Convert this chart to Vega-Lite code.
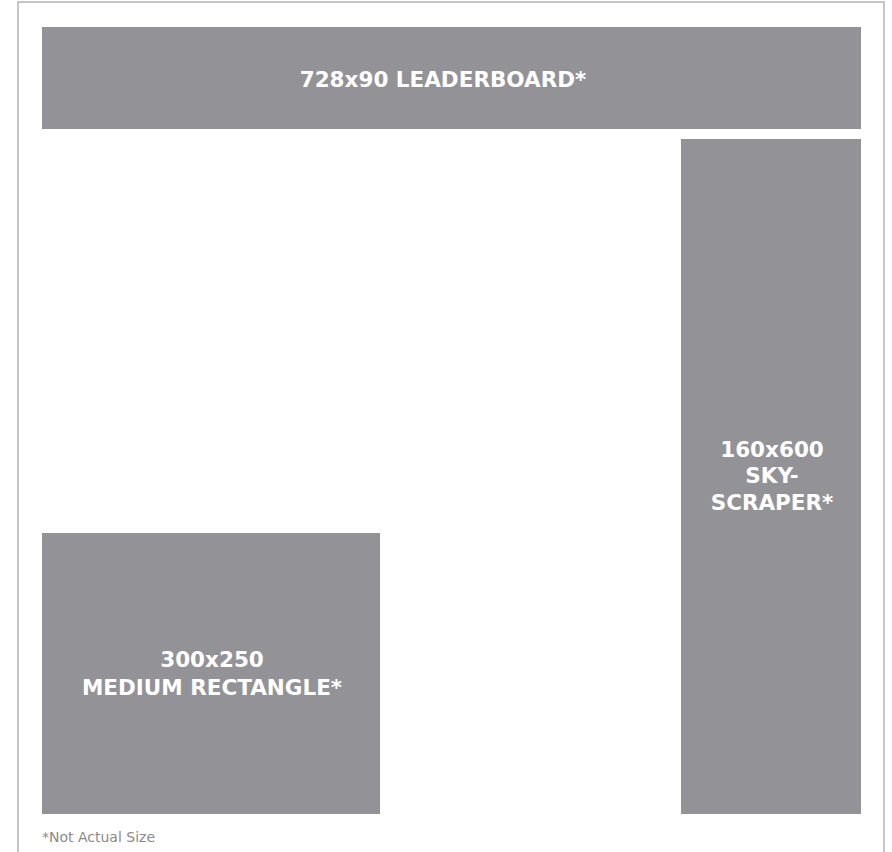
{
  "$schema": "https://vega.github.io/schema/vega-lite/v6.json",
  "width": 892,
  "height": 852,
  "autosize": {"type": "none"},
  "padding": 0,
  "background": "white",
  "config": {"view": {"stroke": null}},
  "datasets": {
    "frame": [{"x": 18, "x2": 884, "y": 2, "y2": 860}],
    "boxes": [
      {"name": "leaderboard", "x": 42, "x2": 861, "y": 27, "y2": 129},
      {"name": "skyscraper", "x": 681, "x2": 861, "y": 139, "y2": 814},
      {"name": "medium", "x": 42, "x2": 380, "y": 533, "y2": 814}
    ],
    "labels": [
      {"text": "728x90 LEADERBOARD*", "x": 443, "y": 87},
      {"text": "160x600", "x": 772, "y": 457},
      {"text": "SKY-", "x": 772, "y": 483},
      {"text": "SCRAPER*", "x": 772, "y": 510},
      {"text": "300x250", "x": 212, "y": 667},
      {"text": "MEDIUM RECTANGLE*", "x": 212, "y": 695}
    ],
    "notes": [{"text": "*Not Actual Size", "x": 42, "y": 842}]
  },
  "layer": [
    {
      "data": {"name": "frame"},
      "mark": {"type": "rect", "fill": null, "stroke": "#b4b4b4", "strokeWidth": 1.5},
      "encoding": {
        "x": {"field": "x", "type": "quantitative", "scale": {"domain": [0, 892], "nice": false, "zero": false}, "axis": null},
        "x2": {"field": "x2"},
        "y": {"field": "y", "type": "quantitative", "scale": {"domain": [0, 852], "reverse": true, "nice": false, "zero": false}, "axis": null},
        "y2": {"field": "y2"}
      }
    },
    {
      "data": {"name": "boxes"},
      "mark": {"type": "rect", "fill": "#939397"},
      "encoding": {
        "x": {"field": "x", "type": "quantitative", "axis": null},
        "x2": {"field": "x2"},
        "y": {"field": "y", "type": "quantitative", "axis": null},
        "y2": {"field": "y2"}
      }
    },
    {
      "data": {"name": "labels"},
      "mark": {"type": "text", "font": "DejaVu Sans", "fontWeight": "bold", "fontSize": 21.5, "fill": "white", "align": "center", "baseline": "alphabetic"},
      "encoding": {
        "x": {"field": "x", "type": "quantitative", "axis": null},
        "y": {"field": "y", "type": "quantitative", "axis": null},
        "text": {"field": "text"}
      }
    },
    {
      "data": {"name": "notes"},
      "mark": {"type": "text", "font": "DejaVu Sans", "fontSize": 14, "fill": "#8a8a8a", "align": "left", "baseline": "alphabetic"},
      "encoding": {
        "x": {"field": "x", "type": "quantitative", "axis": null},
        "y": {"field": "y", "type": "quantitative", "axis": null},
        "text": {"field": "text"}
      }
    }
  ]
}
